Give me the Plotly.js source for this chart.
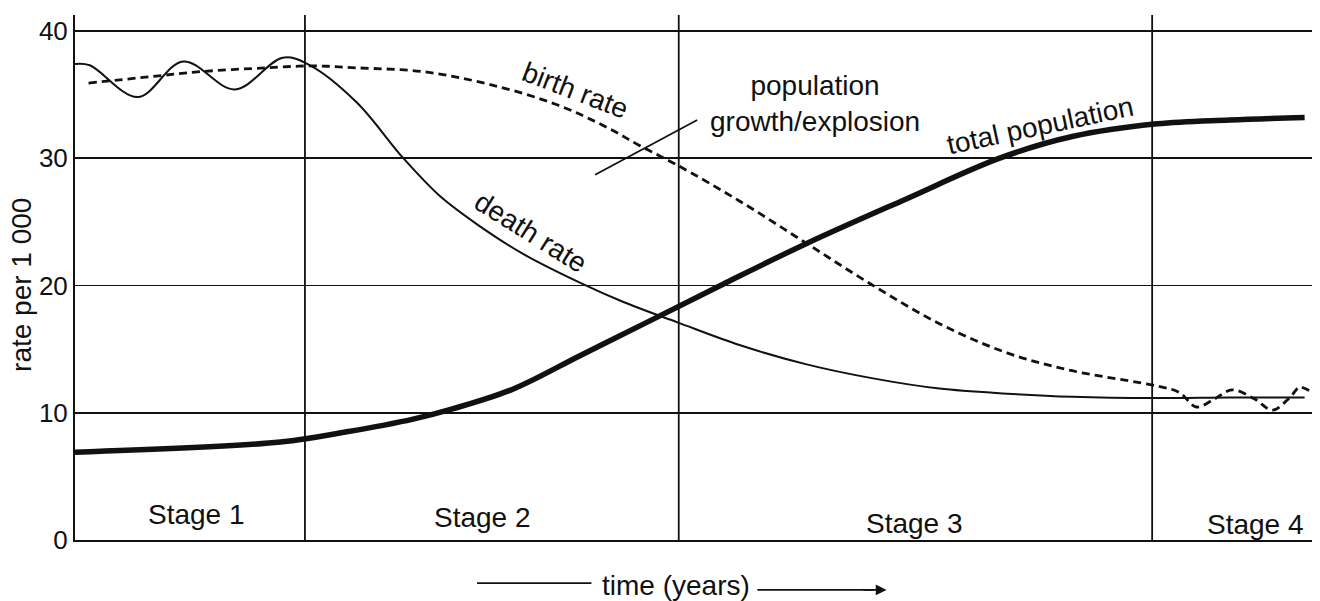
<!DOCTYPE html>
<html>
<head>
<meta charset="utf-8">
<script src="https://cdn.plot.ly/plotly-3.0.1.min.js"></script>
<style>html,body{margin:0;padding:0;background:#fff;}#chart{width:1320px;height:601px;}</style>
</head>
<body>
<div id="chart"></div>
<script>
// time axis runs 0..100 (arbitrary units, no tick labels)
const deathT = [0, 1.2, 5.1, 8.8, 13, 16.9, 19.1, 22.9, 26.7, 29.7, 32.7, 36.4, 41.1, 44.6, 49.0, 54.1, 59.5, 64.9, 70.3, 75.8, 81.1, 88, 93.9, 100];
const deathV = [37.4, 37.3, 34.8, 37.6, 35.4, 37.9, 37.3, 34.4, 30.0, 27.0, 24.8, 22.5, 20.2, 18.7, 17.1, 15.3, 13.8, 12.7, 11.9, 11.5, 11.25, 11.15, 11.2, 11.2];

const birthT = [1.1, 6.1, 10.2, 15.6, 19.3, 22.9, 28.3, 33.7, 39.2, 43.3, 45.9, 48.9, 54.1, 59.5, 64.9, 70.3, 75.8, 81.1, 88, 89.8, 91.2, 92.7, 94.1, 95.9, 97.4, 98.8, 99.6, 100.6];
const birthV = [35.9, 36.4, 36.8, 37.1, 37.25, 37.1, 36.8, 35.8, 34.2, 32.4, 31.0, 29.5, 26.6, 23.3, 20.0, 17.0, 14.7, 13.3, 12.1, 11.6, 10.45, 11.1, 11.8, 11.1, 10.2, 11.2, 12.0, 11.6];

const popT = [0, 16.7, 22.1, 27.5, 30.7, 35.6, 41.1, 46.5, 52.7, 59.5, 67.6, 75.2, 81.1, 88, 93.9, 100];
const popV = [6.9, 7.7, 8.5, 9.5, 10.3, 11.85, 14.5, 17.1, 20.1, 23.3, 26.8, 30.0, 31.7, 32.7, 33.0, 33.2];

const stageBounds = [18.7, 49.1, 87.6];
const stageLabels = ["Stage 1", "Stage 2", "Stage 3", "Stage 4"];
const stageLabelT = [9.9, 33.1, 68.3, 96.0];
const stageLabelV = [2.0, 1.8, 1.3, 1.2];
const yTicks = [0, 10, 20, 30, 40];

const FONT = "Liberation Sans, Arial, Helvetica, sans-serif";
const black = "#111";
const TXT = {family: FONT, size: 28, color: black};

const traces = [
  {x: deathT, y: deathV, mode: "lines", line: {color: black, width: 2, shape: "spline", smoothing: 1.0}, hoverinfo: "skip", name: "death rate"},
  {x: birthT, y: birthV, mode: "lines", line: {color: black, width: 2.8, dash: "8px,5px", shape: "spline", smoothing: 1.0}, hoverinfo: "skip", name: "birth rate"},
  {x: popT, y: popV, mode: "lines", line: {color: black, width: 5.5, shape: "spline", smoothing: 1.0}, hoverinfo: "skip", name: "total population"}
];

const shapes = stageBounds.map(t => ({type: "line", xref: "x", yref: "y", x0: t, x1: t, y0: 0, y1: 41.25, line: {color: black, width: 1.8}}));
// leader line for "population growth/explosion"
shapes.push({type: "line", xref: "x", yref: "y", x0: 42.3, y0: 28.7, x1: 50.6, y1: 33.0, line: {color: black, width: 1.8}});
// x-title decorations
shapes.push({type: "line", xref: "x", yref: "paper", x0: 32.7, x1: 42.0, y0: -0.082, y1: -0.082, line: {color: black, width: 1.8}});
shapes.push({type: "line", xref: "x", yref: "paper", x0: 55.5, x1: 65.0, y0: -0.095, y1: -0.095, line: {color: black, width: 1.8}});

const annotations = stageLabels.map((s, i) => ({x: stageLabelT[i], y: stageLabelV[i], xref: "x", yref: "y", text: s, showarrow: false, font: TXT}));
annotations.push(
  {x: 40.7, y: 35.3, text: "birth rate", textangle: 21, showarrow: false, font: TXT},
  {x: 37.1, y: 24.2, text: "death rate", textangle: 32, showarrow: false, font: TXT},
  {x: 78.5, y: 32.6, text: "total population", textangle: -12, showarrow: false, font: TXT},
  {x: 60.2, y: 34.3, text: "population<br>growth/explosion", showarrow: false, align: "center", font: TXT},
  {x: -0.0428, y: 0.486, xref: "paper", yref: "paper", text: "rate per 1 000", textangle: -90, showarrow: false, xanchor: "center", yanchor: "middle", font: TXT},
  {x: 48.9, y: -0.086, xref: "x", yref: "paper", text: "time (years)", showarrow: false, xanchor: "center", yanchor: "middle", font: TXT},
  {x: 66.0, y: -0.095, ax: 64.0, ay: -0.095, xref: "x", yref: "paper", axref: "x", ayref: "paper", text: "", showarrow: true, arrowhead: 2, arrowsize: 1.2, arrowwidth: 1.8, arrowcolor: black}
);

const layout = {
  width: 1320, height: 601,
  margin: {l: 75, r: 8, t: 15, b: 61},
  paper_bgcolor: "#fff", plot_bgcolor: "#fff",
  showlegend: false,
  xaxis: {range: [0, 100.6], showgrid: false, zeroline: false, showline: true, linecolor: black, linewidth: 2, showticklabels: false, ticks: "", fixedrange: true},
  yaxis: {range: [0, 41.25], tickvals: yTicks, ticktext: yTicks.map(String), showgrid: true, gridcolor: black, gridwidth: 1.8, zeroline: false, showline: true, linecolor: black, linewidth: 2, ticks: "", tickfont: {family: FONT, size: 26, color: black}, fixedrange: true},
  shapes: shapes,
  annotations: annotations
};

Plotly.newPlot("chart", traces, layout, {staticPlot: true, displayModeBar: false});
</script>
</body>
</html>
